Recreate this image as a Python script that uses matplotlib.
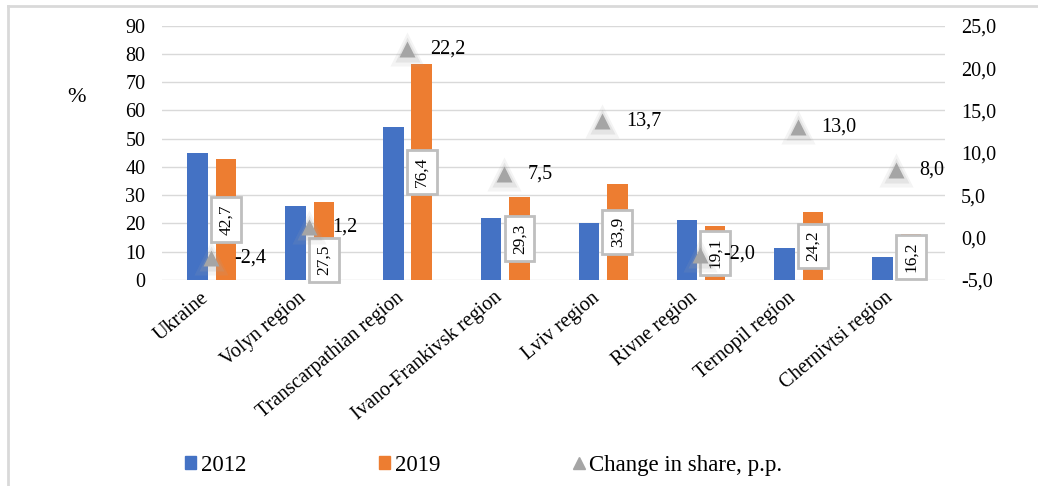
import numpy as np
import matplotlib.pyplot as plt
import matplotlib.transforms as mtransforms
from matplotlib.lines import Line2D
from matplotlib.patches import Patch

plt.rcParams['font.family'] = ['Liberation Serif', 'DejaVu Serif']

# Data
regions = ['Ukraine', 'Volyn region', 'Transcarpathian region', 'Ivano-Frankivsk region',
           'Lviv region', 'Rivne region', 'Ternopil region', 'Chernivtsi region']
share_2012 = [45.1, 26.3, 54.2, 21.8, 20.2, 21.1, 11.2, 8.2]
share_2019 = [42.7, 27.5, 76.4, 29.3, 33.9, 19.1, 24.2, 16.2]
change_pp = [-2.4, 1.2, 22.2, 7.5, 13.7, -2.0, 13.0, 8.0]

blue = '#4472c4'
orange = '#ed7d31'
grey = '#a5a5a5'
fs = 14.5

def fmt(v):
    return f"{v:.1f}".replace('.', ',')

fig = plt.figure(figsize=(10.38, 4.86), dpi=100)
ax = fig.add_axes([0.156, 0.424, 0.754, 0.523])
ax2 = ax.twinx()

x = np.arange(len(regions))
w = 0.21
ax.bar(x - 0.135, share_2012, width=w, color=blue, zorder=2)
ax.bar(x + 0.155, share_2019, width=w, color=orange, zorder=2)

# boxed labels for 2019
for i, v in enumerate(share_2019):
    yy = v / 2 if i != 1 else 7.0
    ax.text(x[i] + 0.155, yy, fmt(v), rotation=90, ha='center', va='center',
            fontsize=12.5, zorder=5,
            bbox=dict(boxstyle='square,pad=0.4', fc='white', ec='#bfbfbf', lw=2))

ax.set_xlim(-0.5, len(regions) - 0.5)
ax.set_ylim(0, 90)
ax.set_yticks(np.arange(0, 91, 10))
ax.grid(axis='y', color='#d9d9d9', lw=1)
ax.set_axisbelow(True)
ax.set_xticks(x)
ax.set_xticklabels(regions, rotation=40, ha='right', rotation_mode='anchor')
ax.tick_params(axis='x', length=0, labelsize=fs, pad=6)
ax.tick_params(axis='y', length=0, labelsize=fs, pad=12)
shift = mtransforms.ScaledTranslation(-8 / 72, 0, fig.dpi_scale_trans)
for lab in ax.get_xticklabels():
    lab.set_transform(lab.get_transform() + shift)
for s in ax.spines.values():
    s.set_visible(False)

# change in share (right axis), with a soft glow behind the markers
ax2.plot(x, change_pp, ls='none', marker='^', ms=24, color=grey, alpha=0.12, mec='none', zorder=3)
ax2.plot(x, change_pp, ls='none', marker='^', ms=18, color=grey, alpha=0.2, mec='none', zorder=3)
ax2.plot(x, change_pp, ls='none', marker='^', ms=11, color=grey, mec='none', zorder=4)
for i, v in enumerate(change_pp):
    ax2.annotate(fmt(v), (x[i], v), xytext=(17, 0), textcoords='offset points',
                 ha='left', va='center', fontsize=fs)
ax2.set_ylim(-5, 25)
ax2.set_yticks(np.arange(-5, 26, 5))
ax2.set_yticklabels([fmt(t) for t in np.arange(-5, 26, 5)])
ax2.tick_params(axis='y', length=0, labelsize=fs, pad=12)
for s in ax2.spines.values():
    s.set_visible(False)

fig.text(0.074, 0.80, '%', fontsize=16, ha='center', va='center')

handles = [Patch(color=blue), Patch(color=orange),
           Line2D([], [], ls='none', marker='^', color=grey, ms=8)]
fig.legend(handles, ['2012', '2019', 'Change in share, p.p.'], ncol=3,
           loc='center left', bbox_to_anchor=(0.158, 0.043), frameon=False,
           fontsize=16.5, handlelength=0.5, handleheight=0.5, handletextpad=0.2,
           columnspacing=5.8)

# chart frame
fig.add_artist(Line2D([0.008, 1.0], [0.988, 0.988], color='#d9d9d9', lw=2, transform=fig.transFigure))
fig.add_artist(Line2D([0.008, 0.008], [0.0, 0.988], color='#d9d9d9', lw=2, transform=fig.transFigure))

fig.savefig('out.png', dpi=100)
